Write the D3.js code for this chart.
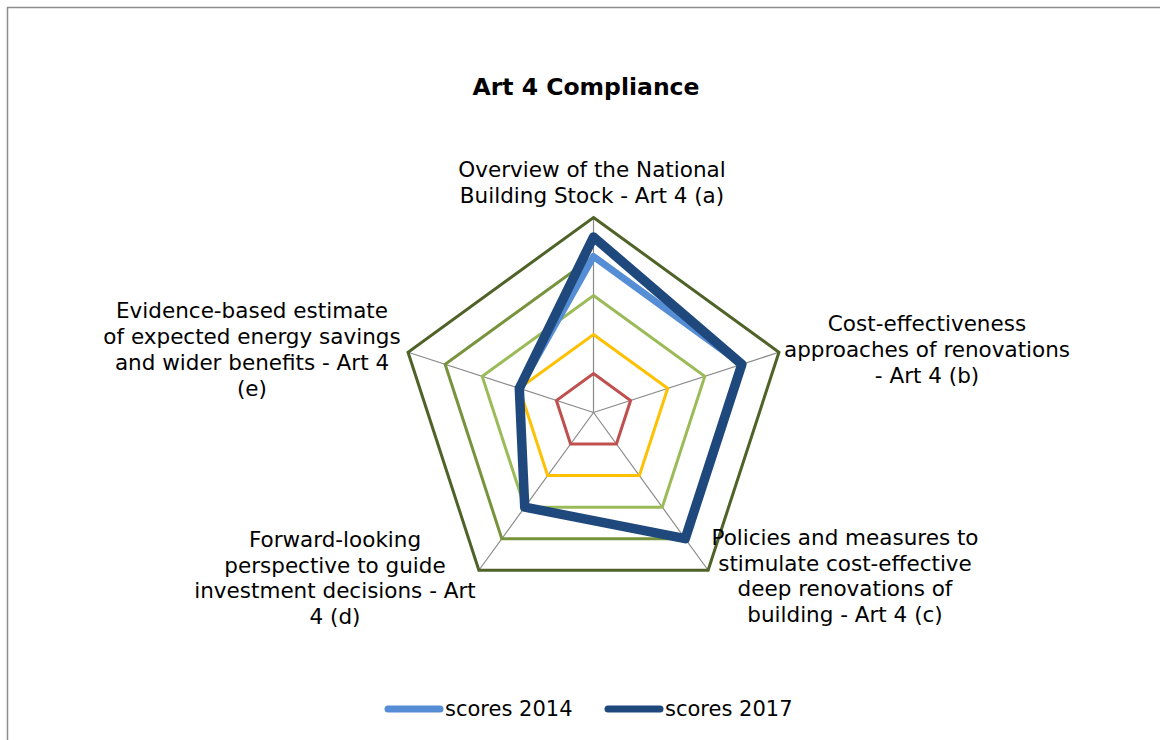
<!DOCTYPE html>
<html>
<head>
<meta charset="utf-8">
<script src="https://cdn.jsdelivr.net/npm/d3@7"></script>
<style>
  html, body { margin: 0; padding: 0; background: #fff; }
  svg { display: block; font-family: "DejaVu Sans", Verdana, sans-serif; }
</style>
</head>
<body>
<svg id="chart" width="1160" height="740"></svg>
<script>
// Radar axes (one per Art 4 requirement), each label split into its wrapped lines
const categories = [
  ["Overview of the National", "Building Stock - Art 4 (a)"],
  ["Cost-effectiveness", "approaches of renovations", "- Art 4 (b)"],
  ["Policies and measures to", "stimulate cost-effective", "deep renovations of", "building - Art 4 (c)"],
  ["Forward-looking", "perspective to guide", "investment decisions - Art", "4 (d)"],
  ["Evidence-based estimate", "of expected energy savings", "and wider benefits - Art 4", "(e)"]
];

// Scored series
const scores2014 = [4, 4, 4, 3, 2];
const scores2017 = [4.5, 4, 4, 3, 2];

// Reference score bands drawn as constant rings
const bandLevels = [1, 2, 3, 4, 5];
const bandColors = ["#C0504D", "#FFC000", "#9BBB59", "#77933C", "#4F6228"];

const legendLabels = ["scores 2014", "scores 2017"];
const seriesColors = ["#558ED5", "#1F497D"];

const svg = d3.select("#chart");

// chart frame
svg.append("rect")
  .attr("x", 7.5).attr("y", 7.5)
  .attr("width", 1170).attr("height", 760)
  .attr("fill", "#fff").attr("stroke", "#8c8c8c").attr("stroke-width", 1.5);

svg.append("text")
  .attr("x", 586).attr("y", 95)
  .attr("text-anchor", "middle")
  .attr("font-size", 23.5).attr("font-weight", "bold")
  .attr("fill", "#000")
  .text("Art 4 Compliance");

const cx = 593.5, cy = 412.5;
const r = d3.scaleLinear().domain([0, 5]).range([0, 195]);
const angle = d3.scaleLinear().domain([0, categories.length]).range([0, 2 * Math.PI]);

const g = svg.append("g").attr("transform", `translate(${cx},${cy})`);

// spokes
g.selectAll("line.spoke")
  .data(categories)
  .join("line")
  .attr("class", "spoke")
  .attr("x1", 0).attr("y1", 0)
  .attr("x2", (d, i) => r(5) * Math.sin(angle(i)))
  .attr("y2", (d, i) => -r(5) * Math.cos(angle(i)))
  .attr("stroke", "#8a8a8a").attr("stroke-width", 1.2);

const radial = d3.lineRadial()
  .angle((d, i) => angle(i))
  .radius(d => r(d))
  .curve(d3.curveLinearClosed);

// constant bands
g.selectAll("path.band")
  .data(bandLevels.map(v => categories.map(() => v)))
  .join("path")
  .attr("class", "band")
  .attr("d", radial)
  .attr("fill", "none")
  .attr("stroke", (d, i) => bandColors[i])
  .attr("stroke-width", 3)
  .attr("stroke-linejoin", "miter");

// score series
g.append("path")
  .datum(scores2014)
  .attr("d", radial)
  .attr("fill", "none")
  .attr("stroke", seriesColors[0])
  .attr("stroke-width", 7)
  .attr("stroke-linejoin", "round");

g.append("path")
  .datum(scores2017)
  .attr("d", radial)
  .attr("fill", "none")
  .attr("stroke", seriesColors[1])
  .attr("stroke-width", 9.5)
  .attr("stroke-linejoin", "round");

// axis labels
const labelPos = [
  { x: 592, y: 177, dy: 26 },
  { x: 927, y: 331, dy: 26 },
  { x: 845, y: 545, dy: 25.5 },
  { x: 335, y: 547, dy: 25.5 },
  { x: 252, y: 318, dy: 26 }
];
categories.forEach((lines, i) => {
  const t = svg.append("text")
    .attr("text-anchor", "middle")
    .attr("font-size", 21.5)
    .attr("fill", "#000");
  lines.forEach((ln, j) => {
    t.append("tspan")
      .attr("x", labelPos[i].x)
      .attr("y", labelPos[i].y + j * labelPos[i].dy)
      .text(ln);
  });
});

// legend
const legend = svg.append("g");
const legendItems = [
  { x1: 388, x2: 440, tx: 445 },
  { x1: 608, x2: 660, tx: 665 }
];
legendLabels.forEach((lab, i) => {
  const it = legendItems[i];
  legend.append("line")
    .attr("x1", it.x1).attr("x2", it.x2)
    .attr("y1", 709).attr("y2", 709)
    .attr("stroke", seriesColors[i])
    .attr("stroke-width", 7)
    .attr("stroke-linecap", "round");
  legend.append("text")
    .attr("x", it.tx).attr("y", 716)
    .attr("font-size", 21)
    .attr("fill", "#000")
    .text(lab);
});
</script>
</body>
</html>
